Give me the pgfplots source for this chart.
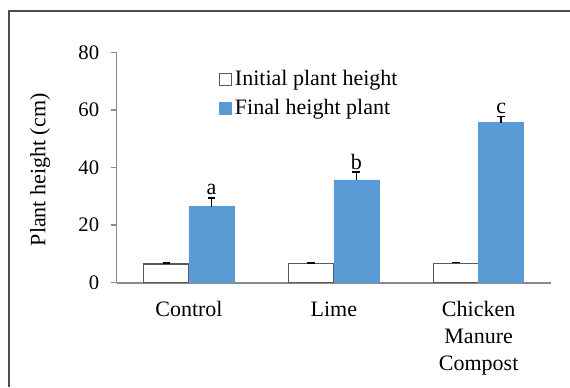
\documentclass[border=0pt]{standalone}
\usepackage{pgfplots}
\pgfplotsset{compat=1.18}
\usepackage{fontspec}
\setmainfont{Liberation Serif}
\definecolor{barblue}{HTML}{5B9BD5}
\definecolor{axgray}{HTML}{8C8C8C}
\pgfplotsset{myerr/.style={
  error bars/y dir=plus, error bars/y explicit,
  error bars/error mark options={rotate=90, mark size=2.9pt, line width=1.1pt, black},
  error bars/error bar style={line width=1.1pt, black}}}
\begin{document}
\begin{tikzpicture}
\path[use as bounding box] (0,0) rectangle (427.5pt,290.25pt);
\draw[line width=1.5pt, black!70] (7pt,0) -- (7pt,282pt) -- (427.5pt,282pt);
\begin{axis}[
  at={(87.4pt,78.2pt)}, anchor=south west,
  scale only axis, width=325.9pt, height=172.8pt,
  ybar, bar width=33.75pt,
  xmin=-0.5, xmax=2.5, ymin=0, ymax=80,
  xtick={0,1,2},
  xticklabels={Control, Lime, {Chicken\\Manure\\Compost}},
  xticklabel style={align=center, font=\fontsize{16.5}{20.25}\selectfont, yshift=-6pt},
  x tick style={draw=none},
  ytick={0,20,40,60,80},
  yticklabel style={font=\fontsize{15.5}{18}\selectfont, xshift=-5pt},
  /pgf/number format/assume math mode=true,
  tick align=outside,
  major tick length=4.5pt,
  y tick style={axgray, line width=1pt},
  axis x line*=bottom, axis y line*=left,
  x axis line style={axgray, line width=1.5pt},
  y axis line style={axgray, line width=1pt},
  ylabel={Plant height (cm)},
  ylabel style={font=\fontsize{16.5}{20}\selectfont, at={(axis description cs:-0.176,0.49)}, anchor=center},
  legend style={draw=none, fill=none, at={(0.2265,0.945)}, anchor=north west,
    font=\fontsize{16.5}{20}\selectfont, row sep=4.75pt},
  legend cell align=left,
  legend image code/.code={\draw[#1] (0pt,-4.5pt) rectangle (9pt,4.5pt);},
]
\addplot+[bar shift=-16.875pt, fill=white, draw=black!65, line width=0.8pt, myerr]
  coordinates {(0,6.5) +- (0,0.3) (1,6.6) +- (0,0.3) (2,6.8) +- (0,0.3)};
\addplot+[bar shift=16.875pt, fill=barblue, draw=barblue, myerr,
  nodes near coords={\pgfplotspointmeta},
  point meta=explicit symbolic,
  visualization depends on={\thisrow{err} \as \err},
  every node near coord/.append style={font=\fontsize{16.5}{20}\selectfont, black, yshift=\err*2.16pt, inner sep=2pt}]
  table[x=x, y=y, y error=err, meta=lab] {
x y err lab
0 26.4 3.1 a
1 35.7 2.7 b
2 55.6 2.2 c
};
\legend{Initial plant height, Final height plant}
\end{axis}
\end{tikzpicture}
\end{document}
